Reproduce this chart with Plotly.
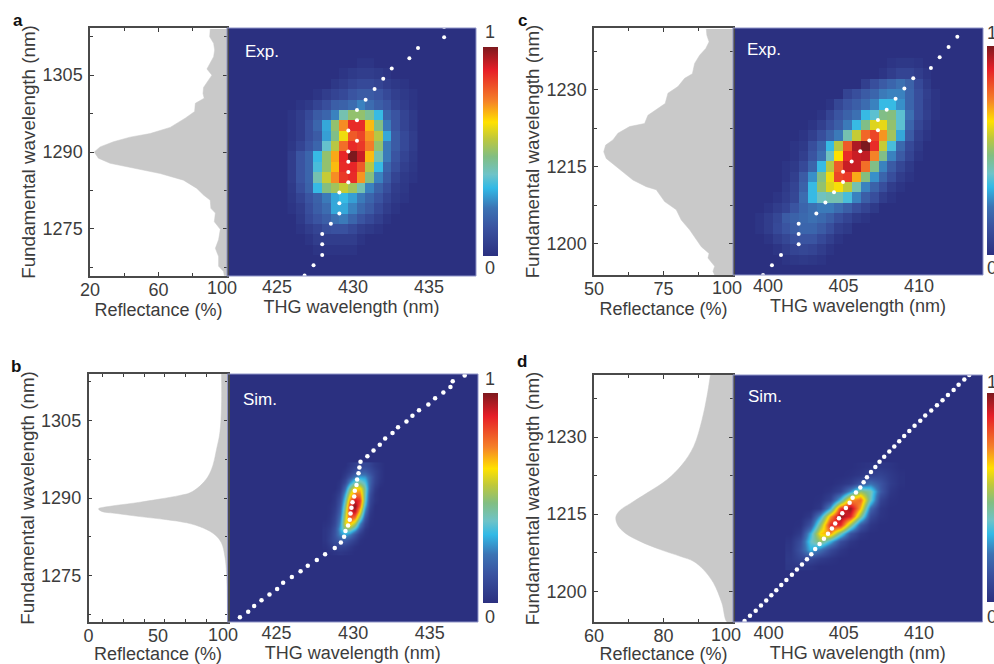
import plotly.graph_objects as go

# ---------- data ----------
jet_stops = [[0, "rgb(43,48,128)"], [0.135, "rgb(58,82,160)"], [0.23, "rgb(60,115,180)"],
             [0.325, "rgb(50,185,230)"], [0.39, "rgb(110,195,200)"], [0.476, "rgb(130,190,130)"],
             [0.56, "rgb(190,200,60)"], [0.64, "rgb(255,225,0)"], [0.74, "rgb(245,130,40)"],
             [0.89, "rgb(230,30,40)"], [1, "rgb(125,25,30)"]]

# reflectance profiles
a_ref_wl = [1314, 1312.5, 1311.2, 1309.9, 1308.6, 1307.3, 1306.2, 1305, 1304, 1302.6, 1301.4, 1300.5, 1299.5,
            1297.9, 1296.6, 1294.8, 1293.6, 1292.9, 1292, 1291, 1290, 1288.8, 1287.8, 1286.8, 1285.8, 1284.5,
            1282.9, 1281.6, 1280.6, 1279, 1278.1, 1276.4, 1274.9, 1272.9, 1271.2, 1269.6, 1267.7, 1266.7, 1265.9]
a_ref_r = [90.2, 89.9, 92.2, 92.8, 92.2, 90.2, 88.3, 91.2, 89.3, 86.3, 86, 86.7, 81.5,
           81.1, 75.6, 66.8, 55.1, 43.4, 33.7, 25.9, 22.5, 24.9, 31.7, 45.4, 61, 74.6,
           82.4, 86.3, 90.2, 90.6, 93.2, 92.6, 96.1, 95.1, 93.2, 95.1, 95.1, 98, 98.4]

c_ref_wl = [1241.8, 1240.6, 1239.3, 1238, 1236.7, 1235.1, 1233.1, 1232.2, 1230.6, 1229.3, 1227.3, 1226.3, 1225,
            1223.4, 1222.8, 1221.5, 1220.2, 1219.2, 1217.9, 1216.6, 1215.3, 1213.7, 1212.4, 1211.1, 1210.5,
            1208.2, 1206.6, 1204.6, 1202.7, 1199.4, 1198.1, 1197.2, 1195.6, 1194.6, 1193.9]
c_ref_r = [90.4, 90.6, 91.4, 90.2, 88, 86.2, 85.4, 82.6, 80.2, 76.6, 75.6, 73, 69.4,
           68.2, 62.8, 58.6, 56.8, 54.2, 53.5, 54.4, 57.4, 60.7, 64, 68.8, 72.4,
           75.4, 79.6, 81.4, 84.4, 88.6, 91.4, 91, 93.4, 92.8, 93.4]

b_ref_wl = [1314, 1307.8, 1302.6, 1299.4, 1296.5, 1294.2, 1292.3, 1291, 1290.5, 1289.8, 1289, 1288.4, 1287.9,
            1287.4, 1287, 1286.4, 1285.8, 1285.2, 1284.2, 1282.9, 1281.3, 1278.7, 1275.5, 1266]
b_ref_r = [95.7, 95.7, 94.5, 92.1, 89.7, 86.1, 80.1, 73, 65.8, 51.4, 32.3, 15.6, 7.2,
           9.6, 20.3, 37.1, 56.2, 70.6, 82.5, 90.9, 95.7, 98.1, 99.3, 100]

d_ref_wl = [1242.1, 1237.9, 1233.4, 1228.2, 1224.6, 1221.7, 1219.1, 1217.1, 1215.8, 1214.5, 1212.9, 1211.3,
            1209.7, 1208.1, 1206.8, 1205.8, 1204.2, 1201.6, 1197.7, 1194]
d_ref_r = [93.5, 92.5, 91.1, 88.7, 85.3, 81, 75.2, 70.5, 67.6, 66.3, 66.8, 69,
           73.3, 79.1, 84.8, 88.7, 91.5, 94.4, 96.8, 98.3]

# dotted ridge lines
a_dot_x = [436.0, 436.0, 434.28, 433.71, 432.55, 431.99, 431.42, 430.83, 430.26, 430.26, 429.69, 430.26, 429.69,
           429.69, 429.69, 429.69, 429.10, 429.10, 429.10, 428.54, 427.97, 427.97, 427.97, 427.40, 426.81]
a_dot_y = [1314.4, 1312.4, 1310.3, 1308.3, 1306.3, 1304.3, 1302.3, 1300.2, 1298.2, 1296.2, 1294.2, 1292.2, 1290.1,
           1288.1, 1286.1, 1284.1, 1282.1, 1280.0, 1278.0, 1276.0, 1274.0, 1272.0, 1269.9, 1267.9, 1265.9]

c_dot_x = [399.67, 400.26, 400.86, 402.03, 402.03, 402.03, 403.2, 403.8, 404.37, 404.97, 404.97, 405.54, 406.11,
           406.71, 407.28, 407.28, 407.86, 408.45, 409.03, 409.62, 410.79, 411.37, 411.96, 412.54]
c_dot_y = [1193.9, 1195.8, 1197.8, 1199.9, 1201.9, 1203.9, 1205.9, 1208, 1210, 1212, 1214, 1216, 1218,
           1220.1, 1222.1, 1224.1, 1226.1, 1228.2, 1230.2, 1232.2, 1234.2, 1236.3, 1238.3, 1240.3]

b_dot_x = [422.61, 423.15, 423.54, 424.02, 424.54, 425.04, 425.43, 426.0, 426.57, 427.04, 427.63, 428.17, 428.8,
           429.2, 429.41, 429.5, 429.67, 429.78, 429.83, 429.89, 429.96, 430.07, 430.11, 430.22, 430.26, 430.35,
           430.41, 430.48, 430.93, 431.33, 431.74, 432.09, 432.57, 432.93, 433.48, 433.87, 434.3, 434.91, 435.35,
           435.89, 436.35, 436.5, 437.28]
b_dot_y = [1266.9, 1268.0, 1269.1, 1270.2, 1271.3, 1272.4, 1273.6, 1274.7, 1275.8, 1276.9, 1278.0, 1279.1, 1280.3,
           1281.4, 1282.5, 1283.6, 1284.7, 1285.8, 1287.0, 1288.1, 1289.2, 1290.3, 1291.4, 1292.5, 1293.6, 1294.8,
           1295.9, 1297.0, 1298.1, 1299.2, 1300.3, 1301.5, 1302.6, 1303.7, 1304.8, 1305.9, 1307.0, 1308.1, 1309.3,
           1310.4, 1311.5, 1312.6, 1313.7]

d_dot_x = [398.4, 398.76, 399.14, 399.49, 399.84, 400.18, 400.51, 400.84, 401.18, 401.55, 401.88, 402.22, 402.55,
           402.84, 403.1, 403.39, 403.68, 403.95, 404.21, 404.43, 404.68, 404.9, 405.14, 405.39, 405.59, 405.81,
           406.1, 406.32, 406.54, 406.81, 407.1, 407.38, 407.69, 408.03, 408.36, 408.69, 409.02, 409.36, 409.71,
           410.09, 410.42, 410.82, 411.2, 411.57, 411.93, 412.31, 412.64, 413.02, 413.35]
d_dot_y = [1194.2, 1195.2, 1196.2, 1197.2, 1198.2, 1199.2, 1200.2, 1201.2, 1202.2, 1203.2, 1204.2, 1205.2, 1206.2,
           1207.2, 1208.2, 1209.2, 1210.2, 1211.2, 1212.2, 1213.2, 1214.2, 1215.2, 1216.2, 1217.2, 1218.2, 1219.2,
           1220.2, 1221.2, 1222.2, 1223.2, 1224.2, 1225.2, 1226.2, 1227.2, 1228.2, 1229.2, 1230.2, 1231.2, 1232.2,
           1233.2, 1234.2, 1235.2, 1236.2, 1237.2, 1238.2, 1239.2, 1240.2, 1241.2, 1242.1]

# THG intensity (percent), rows listed from top to bottom
a_z = [
    [0, 0, 0, 0, 0, 0, 0, 0, 2, 2, 0, 0, 0, 0, 0],
    [0, 0, 0, 0, 0, 0, 2, 4, 5, 5, 4, 2, 0, 0, 0],
    [0, 0, 0, 0, 0, 3, 5, 8, 10, 10, 8, 5, 3, 2, 0],
    [0, 0, 0, 2, 5, 8, 10, 14, 16, 16, 14, 10, 6, 4, 2],
    [0, 2, 4, 8, 12, 17, 18, 21, 25, 21, 17, 14, 8, 5, 2],
    [2, 5, 10, 16, 19, 25, 42, 50, 50, 45, 33, 19, 14, 8, 4],
    [2, 5, 12, 19, 30, 50, 73, 87, 87, 68, 47, 24, 14, 8, 4],
    [2, 5, 12, 16, 29, 47, 62, 80, 83, 72, 55, 30, 16, 10, 5],
    [3, 8, 14, 19, 38, 55, 77, 87, 85, 75, 50, 24, 16, 10, 5],
    [5, 14, 19, 33, 50, 70, 88, 100, 92, 68, 42, 24, 14, 8, 4],
    [5, 14, 19, 35, 50, 68, 87, 88, 80, 55, 33, 19, 12, 6, 3],
    [5, 14, 19, 42, 57, 73, 85, 87, 72, 48, 25, 16, 8, 4, 2],
    [4, 12, 18, 33, 48, 52, 57, 52, 42, 25, 18, 12, 5, 3, 0],
    [3, 8, 14, 18, 24, 30, 33, 29, 24, 19, 14, 8, 4, 2, 0],
    [2, 5, 12, 17, 21, 30, 30, 25, 20, 16, 10, 5, 2, 0, 0],
    [0, 4, 10, 14, 17, 22, 24, 19, 14, 10, 6, 2, 0, 0, 0],
    [0, 2, 5, 8, 12, 13, 13, 10, 6, 4, 2, 0, 0, 0, 0],
    [0, 0, 2, 5, 5, 5, 5, 5, 2, 0, 0, 0, 0, 0, 0],
    [0, 0, 0, 2, 2, 2, 2, 2, 0, 0, 0, 0, 0, 0, 0],
]
c_z = [
    [0, 0, 0, 0, 0, 0, 0, 0, 0, 0, 0, 0, 0, 0, 0, 2, 3, 3, 2, 0, 0],
    [0, 0, 0, 0, 0, 0, 0, 0, 0, 0, 0, 0, 0, 0, 2, 5, 8, 8, 5, 2, 0],
    [0, 0, 0, 0, 0, 0, 0, 0, 0, 0, 0, 0, 6, 12, 16, 19, 22, 18, 10, 4, 0],
    [0, 0, 0, 0, 0, 0, 0, 0, 0, 0, 8, 12, 16, 19, 24, 25, 25, 19, 12, 6, 2],
    [0, 0, 0, 0, 0, 0, 0, 0, 2, 9, 14, 17, 21, 25, 33, 33, 27, 19, 12, 5, 2],
    [0, 0, 0, 0, 0, 0, 0, 2, 8, 14, 18, 22, 33, 37, 47, 48, 37, 22, 12, 6, 2],
    [0, 0, 0, 0, 0, 0, 2, 6, 12, 17, 24, 33, 47, 60, 61, 50, 37, 19, 9, 4, 0],
    [0, 0, 0, 0, 0, 2, 6, 12, 18, 24, 42, 57, 78, 83, 72, 52, 30, 16, 6, 2, 0],
    [0, 0, 0, 0, 2, 4, 12, 19, 33, 55, 80, 95, 100, 87, 57, 35, 20, 10, 4, 0, 0],
    [0, 0, 0, 0, 2, 6, 14, 22, 40, 64, 87, 92, 93, 74, 47, 25, 16, 8, 2, 0, 0],
    [0, 0, 0, 2, 4, 10, 19, 33, 55, 80, 92, 92, 77, 47, 25, 16, 9, 4, 0, 0, 0],
    [0, 0, 0, 2, 6, 16, 27, 47, 62, 83, 85, 70, 48, 27, 19, 12, 5, 2, 0, 0, 0],
    [0, 0, 0, 4, 8, 18, 33, 50, 60, 63, 56, 42, 25, 18, 12, 5, 2, 0, 0, 0, 0],
    [0, 0, 2, 5, 9, 21, 33, 40, 42, 42, 35, 25, 17, 12, 5, 2, 0, 0, 0, 0, 0],
    [0, 2, 5, 8, 14, 19, 22, 24, 24, 21, 17, 12, 8, 4, 0, 0, 0, 0, 0, 0, 0],
    [2, 5, 9, 16, 18, 20, 22, 20, 17, 12, 8, 4, 2, 0, 0, 0, 0, 0, 0, 0, 0],
    [2, 5, 10, 14, 17, 19, 19, 16, 12, 6, 4, 0, 0, 0, 0, 0, 0, 0, 0, 0, 0],
    [0, 2, 6, 9, 13, 14, 14, 10, 6, 2, 0, 0, 0, 0, 0, 0, 0, 0, 0, 0, 0],
    [0, 0, 2, 5, 8, 9, 8, 5, 2, 0, 0, 0, 0, 0, 0, 0, 0, 0, 0, 0, 0],
    [0, 0, 0, 2, 3, 4, 3, 2, 0, 0, 0, 0, 0, 0, 0, 0, 0, 0, 0, 0, 0],
]
b_z = [
    [0, 0, 0, 0, 0, 3, 6, 9, 10, 8, 4, 2, 0],
    [0, 0, 0, 0, 2, 6, 12, 17, 17, 12, 7, 3, 0],
    [0, 0, 0, 0, 5, 14, 24, 30, 28, 18, 8, 3, 0],
    [0, 0, 0, 2, 10, 28, 42, 44, 36, 18, 7, 2, 0],
    [0, 0, 0, 4, 20, 48, 65, 66, 44, 16, 4, 0, 0],
    [0, 0, 2, 8, 30, 62, 78, 76, 42, 12, 2, 0, 0],
    [0, 0, 3, 12, 38, 76, 92, 85, 40, 9, 2, 0, 0],
    [0, 1, 4, 15, 45, 87, 100, 78, 33, 7, 0, 0, 0],
    [0, 1, 6, 18, 50, 90, 93, 64, 24, 4, 0, 0, 0],
    [0, 2, 8, 22, 56, 82, 76, 46, 15, 2, 0, 0, 0],
    [1, 3, 10, 26, 60, 68, 54, 26, 8, 1, 0, 0, 0],
    [2, 5, 13, 30, 48, 46, 34, 14, 3, 0, 0, 0, 0],
    [2, 6, 14, 26, 30, 25, 14, 5, 1, 0, 0, 0, 0],
    [2, 7, 12, 16, 16, 11, 6, 1, 0, 0, 0, 0, 0],
    [1, 4, 7, 8, 7, 4, 1, 0, 0, 0, 0, 0, 0],
    [0, 1, 2, 3, 2, 1, 0, 0, 0, 0, 0, 0, 0],
]
d_z = [
    [0, 0, 0, 0, 0, 0, 0, 1, 2, 3, 2, 0],
    [0, 0, 0, 0, 0, 0, 1, 3, 7, 8, 4, 1],
    [0, 0, 0, 0, 0, 2, 5, 14, 22, 14, 5, 1],
    [0, 0, 0, 0, 2, 8, 28, 50, 42, 16, 3, 0],
    [0, 0, 0, 1, 8, 35, 72, 78, 40, 8, 1, 0],
    [0, 0, 0, 4, 32, 85, 98, 68, 20, 3, 0, 0],
    [0, 0, 4, 30, 72, 98, 88, 48, 10, 2, 0, 0],
    [0, 1, 14, 50, 88, 88, 50, 16, 3, 0, 0, 0],
    [0, 5, 32, 66, 72, 42, 14, 3, 0, 0, 0, 0],
    [2, 12, 38, 50, 32, 12, 3, 0, 0, 0, 0, 0],
    [3, 14, 32, 22, 10, 3, 0, 0, 0, 0, 0, 0],
    [4, 9, 10, 5, 2, 0, 0, 0, 0, 0, 0, 0],
    [3, 3, 2, 0, 0, 0, 0, 0, 0, 0, 0, 0],
]

left_major = [[20, 60, 100], [0, 50, 100], [50, 75, 100], [60, 80, 100]]
left_minor = [[40, 80], [10, 25, 40, 55, 70, 85], [62.5, 87.5], [70, 90]]
wl_major = [[1275, 1290, 1305], [1275, 1290, 1305], [1200, 1215, 1230], [1200, 1215, 1230]]
wl_minor = [[1267.5, 1282.5, 1297.5, 1312.5], [1267.5, 1282.5, 1297.5, 1312.5],
            [1207.5, 1222.5, 1237.5], [1207.5, 1222.5, 1237.5]]
thg_ticks = [[425, 430, 435], [425, 430, 435], [400, 405, 410], [400, 405, 410]]
panel_names = ["a", "b", "c", "d"]
mode_names = ["Exp.", "Sim.", "Exp.", "Sim."]

# ---------- layout (pixels of the 994x664 page) ----------
W, H = 994, 664
FONT = "Liberation Sans"
INK = "#3c3c3c"
NAVY = "rgb(43,48,128)"
GEOM = [  # left x0, split, right x1, top, bottom
    (90, 227, 476, 28, 276),
    (88.5, 227.5, 478, 374, 622),
    (594, 733, 983, 28, 275),
    (594, 733, 982.5, 375, 622),
]
RANGES = [  # left range, wavelength range, THG range
    ([20, 100], [1265.8, 1314.2], [421.7, 438.1]),
    ([0, 100], [1266.0, 1314.0], [421.8, 438.15]),
    ([50, 100], [1193.9, 1242.0], [397.68, 414.24]),
    ([60, 100], [1194.0, 1242.1], [397.63, 414.23]),
]
HEAT = [  # z, x0, dx, y0, dy, smooth
    (a_z, 425.97, 0.572, 1270.96, 2.02, False),
    (b_z, 428.15, 0.326, 1279.54, 1.12, "best"),
    (c_z, 399.44, 0.582, 1196.95, 2.012, False),
    (d_z, 401.44, 0.665, 1204.81, 1.623, "best"),
]
CBAR = [(483, 47, 256), (483, 393, 603), (987, 46, 255), (987, 393, 602)]
CB_LABEL_X = [490, 490, 992, 992]
CB_LABEL_Y = [(32, 268), (379, 617), (33, 268), (382, 617)]
TAG_POS = [(18, 20), (16, 366), (522, 20), (522, 361)]
MODE_POS = [(262, 52), (260, 399), (764, 49), (765, 396)]
HUNDRED_POS = [(222, 288), (223, 635), (727, 288), (726, 635)]
REF = [(a_ref_r, a_ref_wl), (b_ref_r, b_ref_wl), (c_ref_r, c_ref_wl), (d_ref_r, d_ref_wl)]
DOTS = [(a_dot_x, a_dot_y), (b_dot_x, b_dot_y), (c_dot_x, c_dot_y), (d_dot_x, d_dot_y)]


def fx(p):
    return p / W


def fy(p):
    return 1 - p / H


fig = go.Figure()
layout = {}
shapes = []
annots = []
tick_font = dict(family=FONT, size=18, color=INK)
x_title_font = dict(family=FONT, size=18, color=INK)
y_title_font = dict(family=FONT, size=18.8, color=INK)


def ann(x, y, text, size=18, color=INK, bold=False):
    annots.append(dict(x=fx(x), y=fy(y), xref="paper", yref="paper", text=f"<b>{text}</b>" if bold else text,
                       showarrow=False, xanchor="center", yanchor="middle",
                       font=dict(family=FONT, size=size, color=color)))


for i in range(4):
    x0, xm, x1, top, bottom = GEOM[i]
    lr, wr, tr = RANGES[i]
    ln, hn = 2 * i + 1, 2 * i + 2
    lx, ly, hx, hy = f"x{ln}", f"y{ln}", f"x{hn}", f"y{hn}"
    # reflectance side panel
    rx, ry = REF[i]
    fig.add_trace(go.Scatter(x=list(rx) + [100, 100], y=list(ry) + [ry[-1], ry[0]], xaxis=lx, yaxis=ly,
                             mode="lines", fill="toself", fillcolor="#c9c9c9",
                             line=dict(color="#c9c9c9", width=0.5, shape="spline" if i in (1, 3) else "linear"),
                             showlegend=False, hoverinfo="skip"))
    layout[f"xaxis{ln}"] = dict(domain=[fx(x0), fx(xm)], range=lr, anchor=ly, tickmode="array",
                                tickvals=left_major[i], ticktext=[str(v) if v != 100 else " " for v in left_major[i]],
                                ticks="inside", ticklen=0 if i == 1 else 4, tickcolor=INK, tickwidth=1,
                                minor=dict(tickmode="array", tickvals=left_minor[i], ticks="inside", ticklen=3,
                                           tickcolor=INK, tickwidth=1),
                                showline=True, linecolor="#4a4a4a", linewidth=1.5, mirror="ticks",
                                showgrid=False, zeroline=False, tickfont=tick_font, ticklabelstandoff=-3,
                                title=dict(text="Reflectance (%)", font=x_title_font, standoff=1))
    layout[f"yaxis{ln}"] = dict(domain=[fy(bottom), fy(top)], range=wr, anchor=lx, tickmode="array",
                                tickvals=wl_major[i], ticktext=[str(v) for v in wl_major[i]],
                                ticks="inside", ticklen=4, tickcolor=INK, tickwidth=1,
                                minor=dict(tickmode="array", tickvals=wl_minor[i], ticks="inside", ticklen=3,
                                           tickcolor=INK, tickwidth=1),
                                showline=True, linecolor="#4a4a4a", linewidth=1.5, mirror="ticks",
                                showgrid=False, zeroline=False, tickfont=tick_font, ticklabelstandoff=2,
                                title=dict(text="Fundamental wavelength (nm)", font=y_title_font, standoff=2))
    # heat map
    shapes.append(dict(type="rect", xref="paper", yref="paper", x0=fx(xm), x1=fx(x1), y0=fy(bottom), y1=fy(top),
                       fillcolor=NAVY, line=dict(width=0), layer="below"))
    z, hx0, hdx, hy0, hdy, smooth = HEAT[i]
    cx, ct, cb = CBAR[i]
    fig.add_trace(go.Heatmap(z=[[v / 100 for v in row] for row in z[::-1]], x0=hx0, dx=hdx, y0=hy0, dy=hdy,
                             xaxis=hx, yaxis=hy, zmin=0, zmax=1, colorscale=jet_stops, zsmooth=smooth,
                             hoverinfo="skip", showscale=True,
                             colorbar=dict(x=fx(cx), xanchor="left", y=fy(ct), yanchor="top", len=cb - ct,
                                           lenmode="pixels", thickness=14.5, thicknessmode="pixels", xpad=0, ypad=0,
                                           outlinewidth=0, ticks="", showticklabels=False)))
    dx, dy = DOTS[i]
    fig.add_trace(go.Scatter(x=dx, y=dy, xaxis=hx, yaxis=hy, mode="markers",
                             marker=dict(color="white", size=4 if i in (0, 2) else 4.5, line=dict(width=0)),
                             showlegend=False, hoverinfo="skip"))
    layout[f"xaxis{hn}"] = dict(domain=[fx(xm), fx(x1)], range=tr, anchor=hy, tickmode="array",
                                tickvals=thg_ticks[i], ticktext=[str(v) for v in thg_ticks[i]], ticks="",
                                showline=False, showgrid=False, zeroline=False, tickfont=tick_font,
                                ticklabelstandoff=-2,
                                title=dict(text="THG wavelength (nm)", font=x_title_font, standoff=1))
    layout[f"yaxis{hn}"] = dict(domain=[fy(bottom), fy(top)], range=wr, anchor=hx, showticklabels=False, ticks="",
                                showline=False, showgrid=False, zeroline=False)
    shapes.append(dict(type="rect", xref="paper", yref="paper", x0=fx(xm), x1=fx(x1), y0=fy(bottom), y1=fy(top),
                       fillcolor="rgba(0,0,0,0)", line=dict(width=1, color="#8f94c8"), layer="above"))
    # texts
    ann(CB_LABEL_X[i], CB_LABEL_Y[i][0], "1")
    ann(CB_LABEL_X[i], CB_LABEL_Y[i][1], "0")
    ann(*HUNDRED_POS[i], "100")
    ann(*TAG_POS[i], panel_names[i], size=17, color="#111111", bold=True)
    ann(*MODE_POS[i], mode_names[i], size=17, color="white")

fig.update_layout(width=W, height=H, margin=dict(l=0, r=0, t=0, b=0, pad=0, autoexpand=False),
                  paper_bgcolor="white", plot_bgcolor="rgba(0,0,0,0)", showlegend=False,
                  shapes=shapes, annotations=annots, **layout)
fig.write_html("out.html", config={"displayModeBar": False},
               post_script="document.body.style.margin='0';document.body.style.overflow='hidden';")
